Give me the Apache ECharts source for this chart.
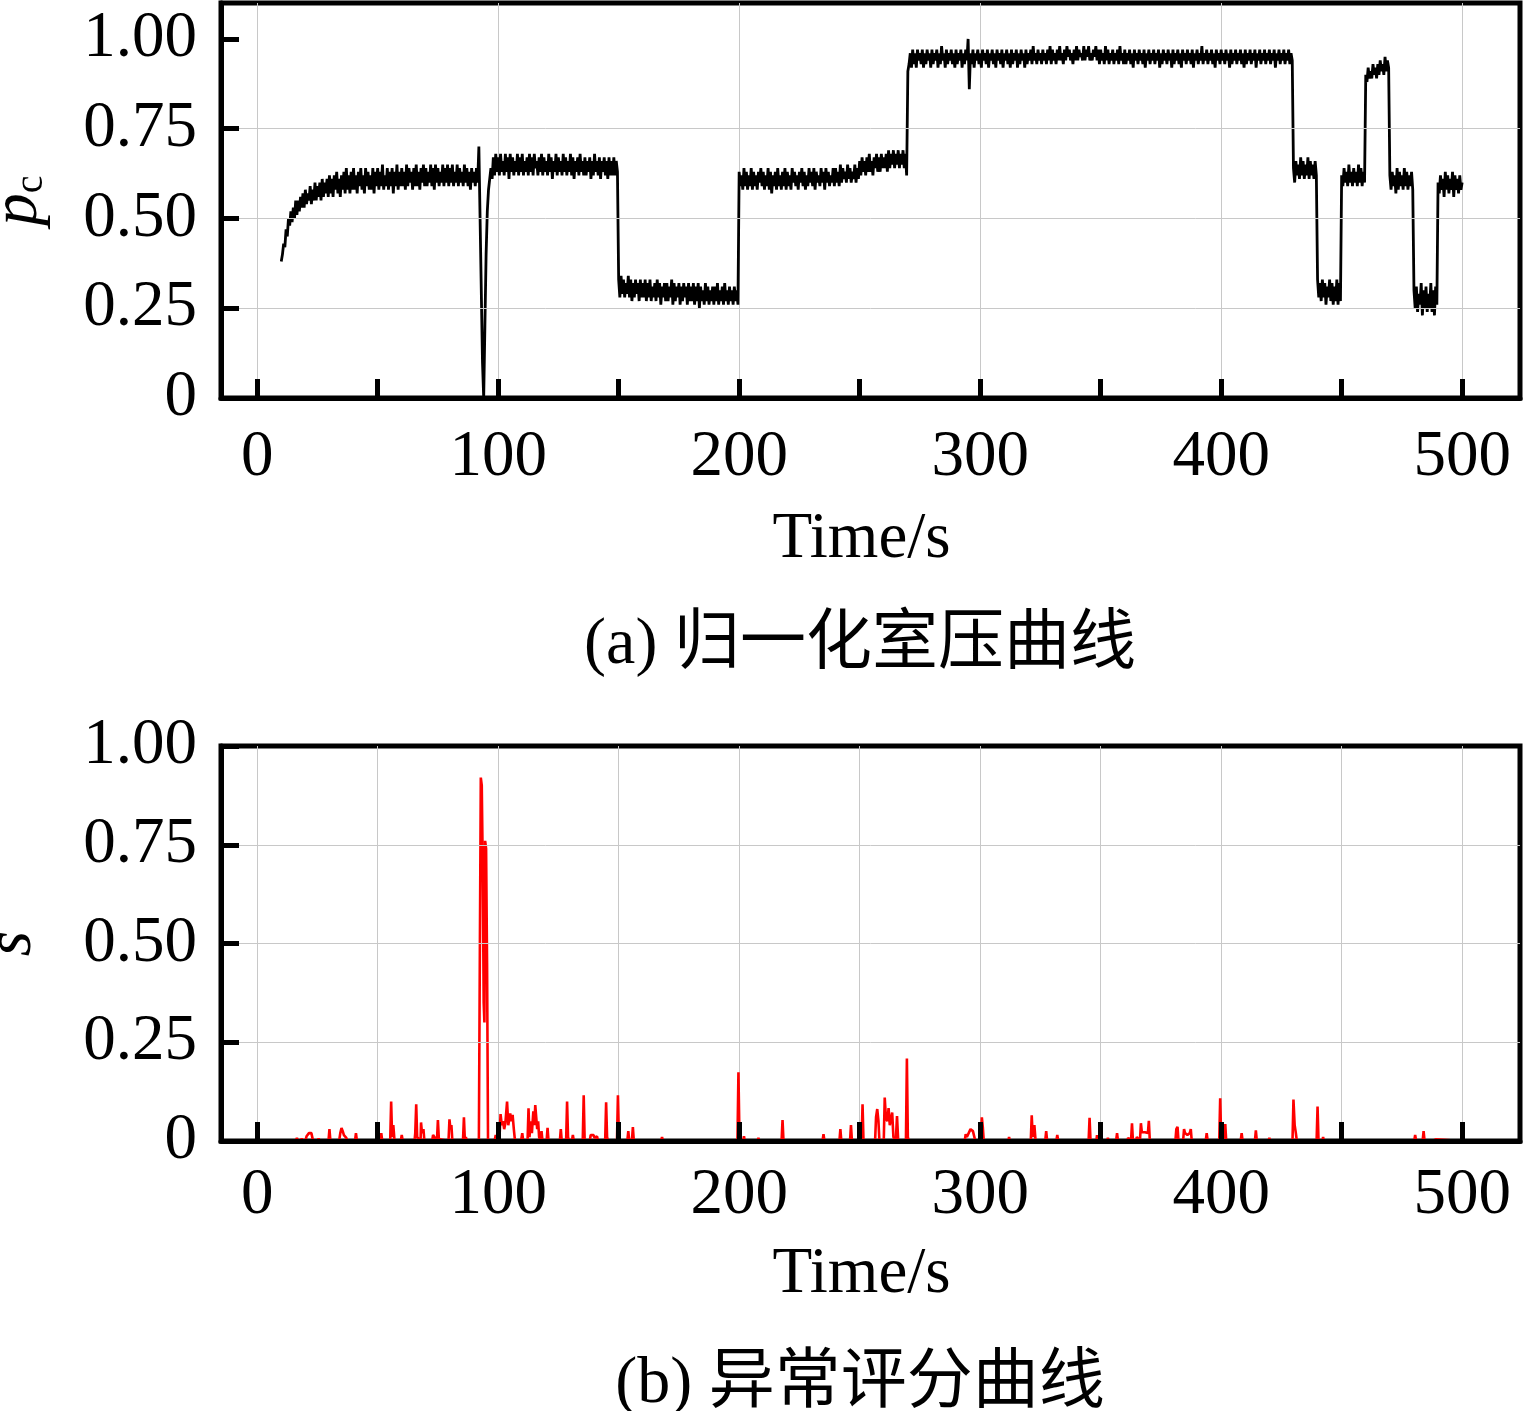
<!DOCTYPE html>
<html>
<head>
<meta charset="utf-8">
<script src="https://cdn.jsdelivr.net/npm/echarts@6.0.0/dist/echarts.min.js"></script>
<style>
  html, body { margin: 0; padding: 0; background: #fff; }
  #chart { width: 1524px; height: 1411px; }
</style>
</head>
<body>
<div id="chart"></div>
<script>
// tick / label positions
const xTickValues = [0, 50, 100, 150, 200, 250, 300, 350, 400, 450, 500]
const xLabelValues = [0, 100, 200, 300, 400, 500]
const yTickValues = [0, 0.25, 0.5, 0.75, 1]

// normalised chamber pressure (in hundredths), one sample every 0.5 s, split in runs
const pcStep = 0.5
const pcStarts = [10, 98, 150, 200, 250, 270, 430, 440, 450, 460, 470, 480, 490]
const pcRamp = [
  38, 40, 43, 42, 47, 45, 50, 48, 52, 49, 53, 50, 55, 51, 55, 52, 56, 53, 57, 53,
  58, 54, 57, 55, 59, 54, 58, 55, 60, 55, 59, 56, 60, 55, 61, 56, 60, 57, 61, 56,
  62, 57, 61, 56, 62, 58, 63, 57, 61, 56, 62, 58, 63, 57, 64, 58, 62, 57, 63, 58,
  64, 58, 62, 57, 63, 59, 64, 58, 62, 57, 64, 59, 63, 58, 62, 58, 64, 57, 63, 59,
  64, 58, 63, 59, 65, 58, 62, 59, 64, 58, 63, 59, 64, 57, 63, 59, 65, 58, 63, 59,
  64, 59, 63, 58, 65, 59, 64, 60, 63, 58, 64, 59, 65, 59, 63, 58, 64, 60, 65, 59,
  64, 59, 63, 60, 65, 59, 64, 58, 65, 60, 64, 59, 63, 60, 65, 59, 64, 60, 65, 59,
  64, 60, 65, 59, 63, 60, 65, 59, 64, 60, 63, 59, 65, 60, 64, 59, 63, 58, 64, 60,
  63, 59, 64, 60, 70, 50, 30, 10, 0, 20, 40, 52, 58, 61, 64, 61
]
const pcHigh1 = [
  67, 62, 68, 63, 67, 62, 68, 63, 66, 62, 68, 63, 67, 61, 68, 63, 67, 62, 66, 63,
  68, 62, 67, 63, 68, 62, 66, 63, 67, 62, 68, 63, 67, 62, 68, 64, 66, 62, 67, 63,
  68, 62, 67, 63, 66, 62, 68, 63, 67, 61, 66, 63, 68, 62, 67, 63, 66, 62, 68, 63,
  67, 62, 66, 63, 68, 62, 67, 61, 66, 63, 67, 62, 68, 63, 66, 62, 67, 62, 66, 63,
  67, 61, 66, 62, 68, 63, 66, 62, 67, 61, 66, 63, 67, 62, 66, 61, 67, 62, 66, 62,
  67, 62, 66, 63
]
const pcLow1 = [
  33, 28, 34, 29, 33, 28, 32, 29, 34, 28, 33, 27, 32, 28, 33, 29, 32, 27, 33, 28,
  32, 28, 33, 27, 32, 28, 33, 27, 31, 28, 32, 27, 33, 28, 32, 26, 31, 28, 32, 27,
  32, 27, 31, 28, 33, 26, 32, 27, 31, 28, 32, 26, 31, 27, 32, 28, 31, 26, 32, 27,
  31, 27, 32, 26, 31, 27, 32, 25, 31, 27, 30, 26, 32, 27, 31, 26, 30, 27, 31, 26,
  31, 27, 32, 26, 30, 27, 31, 26, 32, 27, 30, 26, 31, 27, 30, 26, 31, 27, 30, 26
]
const pcMid1 = [
  63, 59, 62, 58, 64, 59, 63, 58, 62, 59, 64, 58, 63, 59, 62, 58, 63, 60, 64, 59,
  63, 58, 62, 59, 64, 58, 63, 57, 62, 59, 63, 58, 64, 59, 62, 58, 63, 59, 64, 58,
  63, 59, 62, 58, 64, 60, 63, 59, 62, 58, 63, 60, 64, 59, 63, 58, 62, 59, 64, 60,
  63, 59, 64, 58, 63, 60, 62, 59, 64, 60, 63, 58, 64, 60, 63, 59, 62, 60, 64, 59,
  64, 60, 63, 59, 65, 60, 64, 61, 63, 60, 65, 61, 64, 60, 63, 61, 65, 60, 64, 61
]
const pcMid2 = [
  66, 62, 67, 63, 66, 62, 67, 63, 68, 63, 66, 62, 67, 64, 68, 63, 67, 63, 68, 64,
  67, 64, 68, 63, 69, 64, 68, 65, 69, 64, 68, 65, 69, 64, 68, 65, 69, 64, 68, 62
]
const pcTop = [
  91, 93, 96, 92, 97, 93, 96, 92, 97, 94, 96, 93, 97, 92, 96, 93, 97, 94, 96, 92,
  97, 93, 96, 94, 97, 92, 96, 93, 98, 94, 96, 92, 97, 93, 96, 94, 97, 93, 96, 92,
  97, 93, 96, 94, 97, 92, 96, 93, 97, 94, 100, 86, 96, 93, 97, 92, 96, 94, 97, 93,
  96, 92, 97, 94, 96, 93, 97, 92, 96, 94, 97, 93, 96, 92, 97, 94, 96, 93, 97, 92,
  96, 94, 97, 93, 96, 92, 97, 93, 96, 94, 97, 92, 96, 93, 97, 94, 96, 92, 97, 93,
  96, 94, 97, 93, 98, 94, 96, 93, 97, 94, 96, 93, 97, 94, 96, 93, 97, 94, 98, 93,
  97, 94, 96, 93, 97, 94, 98, 94, 96, 93, 97, 94, 98, 95, 97, 94, 96, 93, 97, 94,
  98, 94, 97, 95, 96, 94, 98, 94, 97, 95, 98, 94, 96, 94, 97, 95, 98, 94, 97, 93,
  97, 94, 96, 93, 98, 94, 97, 93, 96, 94, 97, 93, 96, 94, 97, 93, 98, 94, 96, 93,
  97, 93, 96, 94, 97, 93, 96, 92, 97, 94, 96, 93, 97, 94, 96, 93, 97, 92, 96, 94,
  97, 93, 96, 94, 97, 93, 96, 94, 97, 92, 96, 93, 97, 94, 96, 93, 97, 94, 96, 92,
  97, 93, 96, 94, 97, 93, 96, 92, 97, 94, 96, 93, 97, 94, 96, 93, 97, 92, 96, 94,
  97, 93, 96, 94, 98, 93, 96, 94, 97, 93, 96, 94, 97, 93, 96, 92, 97, 94, 96, 93,
  97, 94, 96, 93, 97, 94, 96, 92, 97, 93, 96, 94, 97, 93, 96, 94, 97, 93, 96, 92,
  97, 93, 96, 94, 97, 93, 96, 94, 97, 92, 96, 94, 97, 93, 96, 94, 97, 93, 96, 94,
  97, 93, 96, 94, 97, 92, 96, 94, 97, 93, 96, 94, 97, 93, 96, 94, 97, 93, 96, 94
]
const pcStep1 = [64, 60, 66, 62, 65, 61, 67, 62, 66, 61, 65, 62, 67, 61, 66, 62, 65, 61, 66, 62]
const pcStep2 = [33, 28, 32, 27, 33, 28, 32, 26, 31, 28, 33, 27, 32, 26, 31, 27, 33, 26, 32, 27]
const pcStep3 = [62, 59, 64, 60, 63, 59, 65, 60, 63, 59, 64, 60, 63, 59, 65, 60, 64, 59, 63, 60]
const pcStep4 = [90, 88, 92, 89, 91, 89, 93, 90, 92, 89, 93, 90, 94, 91, 93, 90, 95, 91, 94, 92]
const pcStep5 = [62, 58, 63, 59, 62, 57, 64, 58, 63, 59, 62, 58, 64, 59, 63, 58, 62, 59, 63, 58]
const pcStep6 = [30, 25, 31, 24, 29, 26, 32, 23, 30, 25, 31, 24, 29, 25, 32, 24, 30, 23, 31, 26]
const pcStep7 = [60, 57, 62, 58, 61, 56, 63, 58, 62, 57, 61, 58, 63, 56, 62, 58, 61, 57, 62, 58, 60]
const pcRuns = [pcRamp, pcHigh1, pcLow1, pcMid1, pcMid2, pcTop,
  pcStep1, pcStep2, pcStep3, pcStep4, pcStep5, pcStep6, pcStep7]

// anomaly score, [time, s]
const scorePoints = [
  [10, 0], [13, 0], [13.5, 0.005], [14, 0], [16, 0], [16.5, 0.008], [17, 0], [18, 0], [18.5, 0.006], [19, 0],
  [20, 0], [20.5, 0.012], [21, 0.008], [21.5, 0.02], [22, 0.015], [22.5, 0.02], [23, 0.006], [23.5, 0],
  [25, 0], [25.5, 0.006], [26, 0],
  [29.6, 0], [30, 0.03], [30.4, 0],
  [34, 0], [34.5, 0.02], [35, 0.033], [35.5, 0.025], [36, 0.015], [36.5, 0.02], [37, 0.008], [37.5, 0],
  [40.6, 0], [41, 0.02], [41.4, 0], [43, 0], [43.4, 0.005], [43.8, 0],
  [51.1, 0], [51.5, 0.02], [51.9, 0],
  [55.2, 0], [55.6, 0.10], [56, 0.01], [56.5, 0.04], [57, 0],
  [59.6, 0], [60, 0.015], [60.4, 0],
  [65.3, 0], [65.6, 0.02], [66, 0.093], [66.4, 0.01], [67.8, 0], [68, 0.047], [68.4, 0.02], [69, 0.03], [69.4, 0],
  [72.6, 0], [73, 0.015], [73.4, 0.01], [74.6, 0], [75, 0.053], [75.4, 0.005], [76, 0],
  [79.4, 0], [79.8, 0.055], [80.2, 0.03], [80.6, 0.04], [81, 0],
  [85.4, 0], [85.8, 0.06], [86.2, 0], [86.6, 0.01], [87, 0],
  [92, 0], [92.4, 0.47], [92.8, 0.92], [93.2, 0.90], [93.6, 0.70], [94, 0.35], [94.3, 0.30], [94.6, 0.76],
  [95, 0.74], [95.4, 0.45], [95.8, 0],
  [98.5, 0], [99, 0.015], [99.4, 0],
  [100.5, 0], [101, 0.068], [101.5, 0.04], [102, 0.05], [102.5, 0.03], [103, 0.045], [103.7, 0.10], [104.2, 0.04],
  [105, 0.07], [105.5, 0.05], [106, 0.066], [106.5, 0.03], [107, 0],
  [109.5, 0], [110, 0.02], [110.4, 0],
  [112.2, 0], [112.6, 0.083], [113, 0.01], [113.5, 0.05], [114, 0.02], [114.6, 0.075], [115, 0.04], [115.4, 0.091],
  [115.8, 0.06], [116.2, 0.03], [116.6, 0.05], [117, 0.01], [117.6, 0], [118, 0.025], [118.4, 0],
  [120.1, 0], [120.5, 0.033], [120.9, 0],
  [125.6, 0], [126, 0.03], [126.4, 0], [128.2, 0], [128.6, 0.10], [129, 0.01], [129.4, 0],
  [130.6, 0], [131, 0.015], [131.4, 0],
  [135.1, 0], [135.5, 0.116], [135.9, 0],
  [138, 0], [138.4, 0.015], [139, 0.01], [139.6, 0.015], [140, 0.008], [141, 0.012], [141.5, 0],
  [144.4, 0], [144.8, 0.098], [145.2, 0.01], [145.6, 0],
  [149.3, 0], [149.7, 0.116], [150.1, 0.01], [150.5, 0],
  [153.6, 0], [154, 0.025], [154.4, 0], [155.5, 0], [155.9, 0.035], [156.3, 0],
  [167.6, 0], [168, 0.01], [168.4, 0],
  [177.7, 0], [178, 0.005], [178.3, 0], [180.7, 0], [181, 0.005], [181.3, 0], [185.7, 0], [186, 0.005], [186.3, 0],
  [199.3, 0], [199.7, 0.174], [200.1, 0.02], [200.5, 0],
  [201.7, 0], [202, 0.012], [202.3, 0], [207.7, 0], [208, 0.008], [208.3, 0], [212.7, 0], [213, 0.005], [213.3, 0],
  [217.6, 0], [218, 0.053], [218.4, 0],
  [234.6, 0], [235, 0.017], [235.4, 0],
  [241.6, 0], [242, 0.03], [242.4, 0],
  [246, 0], [246.4, 0.04], [246.8, 0], [248, 0], [248.3, 0.005], [248.6, 0],
  [250.8, 0], [251.2, 0.093], [251.6, 0],
  [256.4, 0], [256.8, 0.06], [257.3, 0.081], [257.8, 0.05], [258.2, 0],
  [260, 0], [260.4, 0.11], [260.9, 0.058], [261.5, 0.05], [262, 0.083], [262.5, 0.04], [263.5, 0.072], [264, 0.01],
  [265, 0], [265.5, 0.063], [266, 0],
  [269.2, 0], [269.6, 0.209], [270, 0.01], [270.4, 0],
  [279.7, 0], [280, 0.005], [280.3, 0], [284.7, 0], [285, 0.005], [285.3, 0],
  [293.6, 0], [294, 0.017], [294.5, 0.01], [296, 0.03], [297, 0.025], [297.5, 0.03], [298, 0],
  [300.3, 0], [300.7, 0.06], [301.1, 0.035], [301.5, 0],
  [311.7, 0], [312, 0.01], [312.3, 0],
  [321, 0], [321.4, 0.065], [321.8, 0.01], [322.5, 0.04], [323, 0],
  [327, 0], [327.4, 0.025], [327.8, 0],
  [331.6, 0], [332, 0.015], [332.4, 0],
  [338.7, 0], [339, 0.005], [339.3, 0],
  [345, 0], [345.4, 0.059], [345.8, 0],
  [348.2, 0], [348.5, 0.015], [348.8, 0],
  [352.7, 0], [353, 0.008], [353.3, 0],
  [356.4, 0], [356.8, 0.02], [357.2, 0],
  [361, 0], [361.4, 0.008], [362.6, 0], [363, 0.045], [363.4, 0],
  [364.7, 0], [365, 0.01], [366.3, 0], [366.7, 0.045], [367.1, 0.022], [368.4, 0.022], [369.6, 0.02], [370, 0.051], [370.4, 0],
  [381, 0], [381.4, 0.03], [381.9, 0.036], [382.3, 0],
  [384.2, 0], [384.6, 0.03], [385, 0.02], [386, 0.015], [387, 0.02], [387.4, 0.03], [387.8, 0],
  [390.7, 0], [391, 0.005], [391.3, 0],
  [393.6, 0], [394, 0.02], [394.4, 0],
  [399.2, 0], [399.6, 0.108], [400, 0.01], [401.3, 0], [401.7, 0.043], [402.1, 0],
  [408.1, 0], [408.5, 0.02], [408.9, 0],
  [414, 0], [414.4, 0.027], [414.8, 0],
  [419.7, 0], [420, 0.008], [420.3, 0],
  [429.6, 0], [430, 0.105], [430.5, 0.04], [431, 0.02], [431.4, 0],
  [439.6, 0], [440, 0.087], [440.4, 0], [442, 0], [442.3, 0.01], [442.6, 0], [444.2, 0], [444.5, 0.005], [445, 0],
  [459.7, 0], [460, 0.005], [460.3, 0], [461.7, 0], [462, 0.005], [462.3, 0],
  [469.7, 0], [470, 0.004], [470.3, 0],
  [480.1, 0], [480.5, 0.015], [480.9, 0], [483.6, 0], [484, 0.025], [484.4, 0],
  [487.7, 0], [488, 0.004], [488.3, 0], [489, 0.004], [489.3, 0],
  [500, 0]
]

const pcData = []
pcStarts.forEach((t0, k) => {
  pcRuns[k].forEach((v, i) => pcData.push([t0 + i * pcStep, v / 100]))
})

const SERIF = "'Liberation Serif', 'Times New Roman', serif"
const CAPTION_FONT = "'Liberation Serif', 'Noto Sans CJK SC', serif"
const labelStyle = { fontSize: 65, fontFamily: SERIF, color: '#000' }
const fmtY = v => (v === 0 ? '0' : v.toFixed(2))

function timeAxis(gridIndex, gridStep, labelMargin, nameGap) {
  return [
    {
      gridIndex,
      type: 'value',
      min: -15,
      max: 524,
      z: 10,
      axisLine: { show: true, onZero: false, lineStyle: { color: '#000', width: 5 } },
      axisTick: { show: true, inside: true, length: 19, customValues: xTickValues, lineStyle: { color: '#000', width: 5 } },
      axisLabel: { ...labelStyle, margin: labelMargin, customValues: xLabelValues },
      splitLine: { show: false },
      name: 'Time/s',
      nameLocation: 'middle',
      nameGap,
      nameTextStyle: { ...labelStyle, padding: [0, 18, 0, 0] },
    },
    {
      // grid lines only
      gridIndex,
      type: 'value',
      position: 'top',
      min: -15,
      max: 524,
      minInterval: gridStep,
      maxInterval: gridStep,
      axisLine: { show: false },
      axisTick: { show: false },
      axisLabel: { show: false },
      splitLine: { show: true, showMinLine: false, showMaxLine: false, lineStyle: { color: '#c8c8c8', width: 1 } },
    },
  ]
}

function valueAxis(gridIndex, max, name, labelMargin, nameGap) {
  return {
    gridIndex,
    type: 'value',
    min: 0,
    max,
    minInterval: 0.25,
    maxInterval: 0.25,
    z: 10,
    axisLine: { show: true, onZero: false, lineStyle: { color: '#000', width: 5 } },
    axisTick: { show: true, inside: true, length: 18, customValues: yTickValues, lineStyle: { color: '#000', width: 5 } },
    axisLabel: { ...labelStyle, margin: labelMargin, customValues: yTickValues, formatter: fmtY },
    splitLine: { show: true, showMinLine: false, showMaxLine: false, lineStyle: { color: '#c8c8c8', width: 1 } },
    name,
    nameLocation: 'middle',
    nameRotate: 90,
    nameGap,
    nameTextStyle: {
      color: '#000',
      fontFamily: SERIF,
      fontSize: 65,
      fontStyle: 'italic',
      rich: {
        p: { fontFamily: SERIF, fontSize: 65, fontStyle: 'italic', color: '#000' },
        c: { fontFamily: SERIF, fontSize: 40, fontStyle: 'normal', color: '#000', verticalAlign: 'bottom', padding: [22, 0, 0, 0] },
      },
    },
  }
}

const chart = echarts.init(document.getElementById('chart'), null, { renderer: 'canvas' })
chart.setOption({
  animation: false,
  backgroundColor: '#fff',
  title: [
    {
      text: '(a) 归一化室压曲线',
      left: 860, top: 613, textAlign: 'center', padding: 0,
      textStyle: { fontSize: 66, fontWeight: 'normal', fontFamily: CAPTION_FONT, color: '#000' },
    },
    {
      text: '(b) 异常评分曲线',
      left: 860, top: 1352, textAlign: 'center', padding: 0,
      textStyle: { fontSize: 66, fontWeight: 'normal', fontFamily: CAPTION_FONT, color: '#000' },
    },
  ],
  grid: [
    { left: 221, top: 3, width: 1299, height: 395, outerBoundsMode: 'none', containLabel: false,
      show: true, borderColor: '#000', borderWidth: 5, backgroundColor: 'transparent' },
    { left: 221, top: 746, width: 1299, height: 395, outerBoundsMode: 'none', containLabel: false,
      show: true, borderColor: '#000', borderWidth: 5, backgroundColor: 'transparent' },
  ],
  xAxis: [...timeAxis(0, 100, 27, 109), ...timeAxis(1, 50, 22, 101)],
  yAxis: [
    valueAxis(0, 1.1, '{p|p}{c|c}', 24, 170),
    valueAxis(1, 1, 's', 24, 176),
  ],
  series: [
    {
      type: 'line',
      xAxisIndex: 0,
      yAxisIndex: 0,
      data: pcData,
      showSymbol: false,
      symbol: 'none',
      sampling: null,
      lineStyle: { color: '#000', width: 2.8 },
      z: 3,
    },
    {
      type: 'line',
      xAxisIndex: 2,
      yAxisIndex: 1,
      data: scorePoints,
      showSymbol: false,
      symbol: 'none',
      lineStyle: { color: '#ff0000', width: 2.6 },
      z: 3,
    },
  ],
})
</script>
</body>
</html>
